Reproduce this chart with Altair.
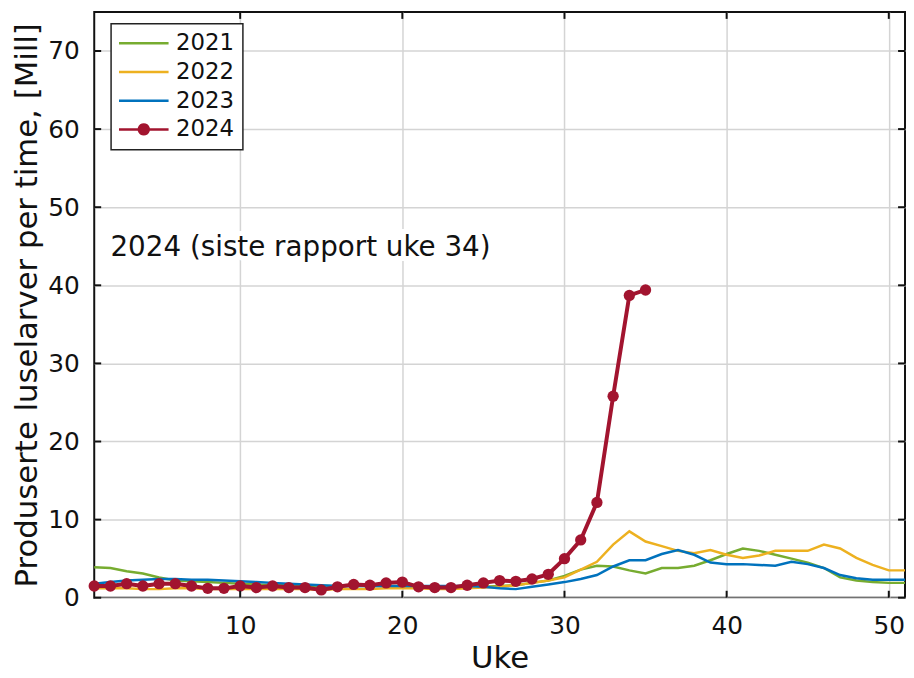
import math
import altair as alt
import pandas as pd

# ---------------- data ----------------
years = ["2021", "2022", "2023", "2024"]
colors = ["#77AC30", "#EDB120", "#0072BD", "#A2142F"]

weeks = list(range(1, 52))
weeks_2024 = list(range(1, 36))

v2021 = [3.9, 3.8, 3.4, 3.1, 2.6, 2.2, 2.1, 2.0, 1.9, 1.8,
         1.7, 1.6, 1.6, 1.5, 1.5, 1.5, 1.5, 1.5, 1.5, 1.5,
         1.4, 1.4, 1.4, 1.4, 1.4, 1.5, 1.6, 1.9, 2.2, 2.8,
         3.6, 4.1, 4.0, 3.5, 3.1, 3.8, 3.8, 4.1, 4.8, 5.6,
         6.3, 6.0, 5.5, 5.0, 4.5, 3.8, 2.6, 2.2, 2.0, 1.9, 1.9]
v2022 = [1.2, 1.2, 1.2, 1.1, 1.1, 1.2, 1.2, 1.1, 1.1, 1.1,
         1.1, 1.1, 1.1, 1.1, 1.0, 1.1, 1.1, 1.1, 1.2, 1.2,
         1.2, 1.1, 1.1, 1.2, 1.3, 1.4, 1.6, 1.9, 2.2, 2.6,
         3.6, 4.6, 6.8, 8.5, 7.2, 6.6, 6.0, 5.7, 6.1, 5.5,
         5.1, 5.4, 6.0, 6.0, 6.0, 6.8, 6.3, 5.1, 4.2, 3.5, 3.5]
v2023 = [1.8, 2.0, 2.2, 2.3, 2.4, 2.4, 2.3, 2.3, 2.2, 2.1,
         2.0, 1.9, 1.8, 1.7, 1.6, 1.5, 1.5, 1.5, 1.5, 1.5,
         1.5, 1.5, 1.5, 1.5, 1.4, 1.2, 1.1, 1.4, 1.7, 2.0,
         2.4, 2.9, 4.0, 4.8, 4.8, 5.6, 6.1, 5.5, 4.5, 4.3,
         4.3, 4.2, 4.1, 4.6, 4.3, 3.8, 2.9, 2.5, 2.3, 2.3, 2.3]
v2024 = [1.5, 1.5, 1.8, 1.5, 1.8, 1.8, 1.5, 1.2, 1.2, 1.5,
         1.3, 1.5, 1.3, 1.3, 1.0, 1.4, 1.7, 1.6, 1.9, 2.0,
         1.4, 1.3, 1.3, 1.6, 1.9, 2.2, 2.1, 2.4, 3.0, 5.0,
         7.4, 12.2, 25.8, 38.7, 39.4]

x_ticks = [10, 20, 30, 40, 50]
y_ticks = [0, 10, 20, 30, 40, 50, 60, 70]

note_text = "2024 (siste rapport uke 34)"
note_week = 2.0
note_value = 43.8

# ---------------- tables ----------------
rows = []
for yr, wk, vals in [("2021", weeks, v2021), ("2022", weeks, v2022),
                     ("2023", weeks, v2023), ("2024", weeks_2024, v2024)]:
    for w, v in zip(wk, vals):
        rows.append({"Uke": w, "Verdi": v, "År": yr})
df = pd.DataFrame(rows)
df_old = df[df["År"] != "2024"]
df_new = df[df["År"] == "2024"]
df_leg = df.rename(columns={"År": "Serie"})
df_note = pd.DataFrame({"Uke": [note_week], "Verdi": [note_value], "tekst": [note_text]})
df_xt = pd.DataFrame({"Uke": x_ticks})
df_yt = pd.DataFrame({"Verdi": y_ticks})

FONT = "DejaVu Sans"
INK = "#111111"
W, H = 818, 591
TICK = 7
xscale = alt.Scale(domain=[1, 51], nice=False, zero=False)
yscale = alt.Scale(domain=[0, 75], nice=False, zero=True)
cscale = alt.Scale(domain=years, range=colors)

# legend glyphs (unit = half of sqrt(symbolSize) = 5 px): a 50 px line,
# and the same line with a round marker of radius 5 px
line_path = "M-5,0L5,0"
_pts = [(math.cos(2 * math.pi * k / 20), math.sin(2 * math.pi * k / 20)) for k in range(20)]
marker_path = line_path + "M" + "L".join(f"{px:.4f},{py:.4f}" for px, py in _pts) + "Z"

x_main = alt.X("Uke:Q", scale=xscale, title="Uke",
               axis=alt.Axis(orient="bottom", values=x_ticks, domain=False,
                             ticks=False, labelPadding=16, titlePadding=5, grid=True))
y_main = alt.Y("Verdi:Q", scale=yscale, title="Produserte luselarver per time, [Mill]",
               axis=alt.Axis(orient="left", values=y_ticks, domain=False,
                             ticks=False, labelPadding=15, titlePadding=4, grid=True))
x_none = alt.X("Uke:Q", scale=xscale, axis=None)
y_none = alt.Y("Verdi:Q", scale=yscale, axis=None)

lines_old = alt.Chart(df_old).mark_line(strokeWidth=2.5).encode(
    x=x_main, y=y_main,
    color=alt.Color("År:N", scale=cscale, legend=None),
    detail="År:N",
)
line_new = alt.Chart(df_new).mark_line(strokeWidth=4).encode(
    x=x_none, y=y_none,
    color=alt.Color("År:N", scale=cscale, legend=None),
)
points_new = alt.Chart(df_new).mark_point(filled=True, size=130, opacity=1).encode(
    x=x_none, y=y_none,
    color=alt.Color("År:N", scale=cscale, legend=None),
)
leg = alt.Legend(title=None)
legend_layer = alt.Chart(df_leg).mark_point(filled=True, opacity=0).encode(
    x=x_none, y=y_none,
    fill=alt.Fill("Serie:N", scale=alt.Scale(range=colors), legend=leg),
    stroke=alt.Stroke("Serie:N", scale=alt.Scale(range=colors), legend=leg),
    shape=alt.Shape("Serie:N",
                    scale=alt.Scale(range=[line_path, line_path, line_path, marker_path]),
                    legend=leg),
)

# inward tick marks on all four sides, placed by the axis scales
tick_style = dict(color=INK, strokeWidth=2)
ticks_bottom = alt.Chart(df_xt).mark_rule(**tick_style).encode(
    x=x_none, y=alt.value(H - TICK), y2=alt.value(H))
ticks_top = alt.Chart(df_xt).mark_rule(**tick_style).encode(
    x=x_none, y=alt.value(0), y2=alt.value(TICK))
ticks_left = alt.Chart(df_yt).mark_rule(**tick_style).encode(
    y=y_none, x=alt.value(0), x2=alt.value(TICK))
ticks_right = alt.Chart(df_yt).mark_rule(**tick_style).encode(
    y=y_none, x=alt.value(W - TICK), x2=alt.value(W))

note_halo = alt.Chart(df_note).mark_text(
    align="left", baseline="alphabetic", font=FONT, fontSize=28,
    fill="white", stroke="white", strokeWidth=10,
).encode(x=x_none, y=y_none, text="tekst:N")
note = alt.Chart(df_note).mark_text(
    align="left", baseline="alphabetic", font=FONT, fontSize=28, color=INK,
).encode(x=x_none, y=y_none, text="tekst:N")

chart = alt.layer(
    note_halo, lines_old, line_new, points_new, legend_layer, note,
    ticks_bottom, ticks_top, ticks_left, ticks_right,
).resolve_axis(
    x="independent", y="independent"
).properties(
    width=W, height=H,
    padding={"left": 87, "top": 1, "right": 1, "bottom": 76},
    autosize=alt.AutoSizeParams(type="none"),
).configure_view(
    stroke=INK, strokeWidth=2,
).configure_axis(
    labelFont=FONT, titleFont=FONT, labelFontSize=25, titleFontSize=31,
    labelColor=INK, titleColor=INK, titleFontWeight="normal",
    gridColor="#d4d4d4", gridWidth=1.5,
).configure_legend(
    orient="none", legendX=17, legendY=12,
    strokeColor="#222222", strokeWidth=1.5, fillColor="white", padding=8,
    labelFont=FONT, labelFontSize=23, labelColor=INK, labelOffset=21,
    symbolSize=100, symbolStrokeWidth=2.5, symbolOpacity=1, symbolOffset=13.5,
    rowPadding=5, cornerRadius=0,
    titleFontSize=1, titlePadding=0,
)

chart.save("out.html", embed_options={"renderer": "svg", "actions": False})
